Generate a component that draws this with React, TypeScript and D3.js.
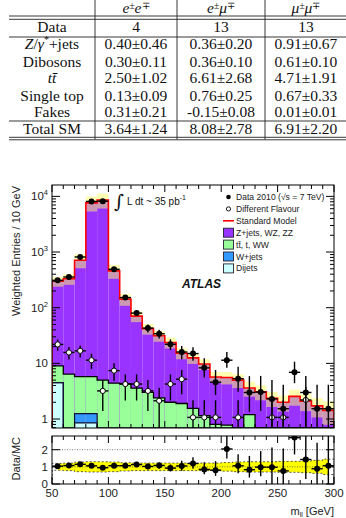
import React from 'react';
import * as d3 from 'd3';

// table (top)
const tableRows = ['Data', 'Z/γ*+jets', 'Dibosons', 'tt', 'Single top', 'Fakes', 'Total SM'];
const eeValues = ['4', '0.40±0.46', '0.30±0.11', '2.50±1.02', '0.13±0.09', '0.31±0.21', '3.64±1.24'];
const emValues = ['13', '0.36±0.20', '0.36±0.10', '6.61±2.68', '0.76±0.25', '-0.15±0.08', '8.08±2.78'];
const mmValues = ['13', '0.91±0.67', '0.61±0.10', '4.71±1.91', '0.67±0.33', '0.01±0.01', '6.91±2.20'];
const channelLeptons = [['e', 'e'], ['e', 'μ'], ['μ', 'μ']];

// histogram, 10 GeV bins
const binLow = [50, 60, 70, 80, 90, 100, 110, 120, 130, 140, 150, 160, 170, 180, 190, 200, 210, 220, 230, 240, 250, 260, 270, 280, 290];
const dataCounts = [310, 356, 815, 8100, 8200, 490, 152, 80, 43, 34, 22, 16, 15, 8.3, 4.6, 11.4, 5.3, 3.0, 3.05, 2.3, 1.53, 6.9, 3.0, 1.53, 1.53];
const dataErrUp = [18, 19, 29, 90, 91, 22, 12, 9, 7, 6, 5, 4.6, 4.5, 4.0, 3.0, 4.6, 3.4, 2.9, 2.9, 2.7, 2.6, 3.8, 2.9, 2.6, 2.6];
const dataErrDown = [18, 19, 29, 90, 91, 22, 12, 9, 7, 6, 4.7, 4.2, 3.9, 2.7, 1.9, 3.1, 2.2, 1.65, 1.65, 2.3, 1.53, 2.5, 2.4, 1.53, 1.53];
const diffFlavour = [21.9, 15.7, 16.8, 11.4, 3.2, 7.4, 4.25, 4.25, 3.2, 2.13, 4.25, 5.2, 1.07, 1.07, 1.07, 0, 1.07, 0, 0, 1.07, 1.07, 0, 2.2, 0, 0];
const diffFlavourErr = [5, 4, 4, 3.5, 1.8, 2.6, 2.1, 2.1, 1.8, 1.5, 2.1, 2.4, 1.1, 1.1, 1.1, 0, 1.1, 0, 0, 1.1, 1.1, 0, 1.6, 0, 0];
const dijets = [4.5, 0, 0.85, 0.85, 0, 0, 0, 0, 0, 0, 0, 0, 0, 0, 0, 0, 0, 0, 0, 0, 0, 0, 0, 0, 0];
const wjets = [0, 0, 0.4, 0.4, 0, 0, 0, 0, 0, 0, 0, 0, 0, 0, 0, 0, 0, 0, 0, 0, 0, 0, 0, 0, 0];
const topWW = [4.5, 6.4, 4.55, 4.55, 5.0, 4.4, 4.3, 3.6, 3.0, 2.4, 2.0, 1.9, 1.55, 1.15, 0.8, 0.78, 0.5, 1.2, 0.45, 0.35, 0.3, 0.3, 0.25, 0.2, 0.2];
const zjets = [289, 324, 704, 7634, 8625, 454, 138, 67, 39, 29, 21.7, 13.3, 11.0, 8.6, 4.9, 4.8, 4.5, 2.4, 2.65, 2.0, 1.7, 2.25, 1.85, 1.52, 1.23];
const mcRelErr = [0.2, 0.22, 0.28, 0.3, 0.3, 0.28, 0.24, 0.22, 0.22, 0.22, 0.22, 0.22, 0.22, 0.22, 0.22, 0.25, 0.28, 0.3, 0.3, 0.3, 0.32, 0.32, 0.34, 0.38, 0.45];

const logMajor = [1, 10, 100, 1000, 10000];
const xMajor = [50, 100, 150, 200, 250, 300];
const ratioTicks = [0, 1, 2];

const legendItems = [
  { label: 'Data 2010 (√s = 7 TeV)', kind: 'data' },
  { label: 'Different Flavour', kind: 'open' },
  { label: 'Standard Model', kind: 'line' },
  { label: 'Z+jets, WZ, ZZ', kind: 'box', color: '#9933ff' },
  { label: 'tt̄, t, WW', kind: 'box', color: '#99ff99' },
  { label: 'W+jets', kind: 'box', color: '#3399ff' },
  { label: 'Dijets', kind: 'box', color: '#ccffff' },
];

const SANS = 'Liberation Sans, Arial, sans-serif';
const SERIF = 'Liberation Serif, Times New Roman, serif';

const App = () => {
  const x = d3.scaleLinear().domain([50, 300]).range([52, 334]);
  const y = d3.scaleLog().domain([0.69, 16000]).range([428, 185]).clamp(true);
  const yr = d3.scaleLinear().domain([0, 2.8]).range([484, 436]).clamp(true);
  const bottom = y.range()[0];

  const cumCyan = dijets;
  const cumBlue = dijets.map((v, i) => v + wjets[i]);
  const cumGreen = cumBlue.map((v, i) => v + topWW[i]);
  const total = cumGreen.map((v, i) => v + zjets[i]);

  const stepPath = (vals: number[], yy: any) => {
    const pts: [number, number][] = [[x(binLow[0]), yy.range()[0]]];
    vals.forEach((v, i) => {
      const yv = v > 0 ? yy(v) : yy.range()[0];
      pts.push([x(binLow[i]), yv]);
      pts.push([x(binLow[i] + 10), yv]);
    });
    pts.push([x(300), yy.range()[0]]);
    return d3.line()(pts) || '';
  };

  const minorLog: number[] = [];
  [0.1, 1, 10, 100, 1000, 10000].forEach((d) => {
    for (let k = 2; k <= 9; k++) {
      const v = k * d;
      if (v >= 0.69 && v <= 16000) minorLog.push(v);
    }
  });
  const xMinor = d3.range(50, 301, 10);

  const logLabel = (v: number) => {
    const e = Math.round(Math.log10(v));
    if (e === 0) return <tspan>1</tspan>;
    if (e === 1) return <tspan>10</tspan>;
    return (
      <>
        <tspan>10</tspan>
        <tspan fontSize={7.5} dy={-5}>{e}</tspan>
      </>
    );
  };

  const colCenters = [52, 136, 221, 306];
  const rowBase = [32, 49, 66.5, 83, 100.5, 117, 134];
  const colValues = [eeValues, emValues, mmValues];

  const rowLabel = (r: string) => {
    if (r === 'Z/γ*+jets') {
      return (
        <>
          <tspan fontStyle="italic">Z</tspan>
          <tspan>/</tspan>
          <tspan fontStyle="italic">γ</tspan>
          <tspan fontSize={10} dy={-6}>*</tspan>
          <tspan dy={6}>+jets</tspan>
        </>
      );
    }
    if (r === 'tt') return <tspan fontStyle="italic">tt̄</tspan>;
    return r;
  };

  const frameTicks = (top: number, bot: number) => (
    <g stroke="#000" strokeWidth={1}>
      {xMinor.map((m) => {
        const len = xMajor.includes(m) ? 7 : 4;
        return (
          <g key={m}>
            <line x1={x(m)} x2={x(m)} y1={bot} y2={bot - len} />
            <line x1={x(m)} x2={x(m)} y1={top} y2={top + len} />
          </g>
        );
      })}
    </g>
  );

  return (
    <svg width={346} height={518} style={{ position: 'absolute', left: 0, top: 0, background: '#fff' }}>
      <defs>
        <clipPath id="mainClip">
          <rect x={52} y={185} width={282} height={243} />
        </clipPath>
        <clipPath id="ratioClip">
          <rect x={52} y={436} width={282} height={48} />
        </clipPath>
      </defs>

      {/* table */}
      <g fontFamily={SERIF} fontSize={15.5} fill="#111" textAnchor="middle">
        {[95, 177, 265].map((vx) => (
          <line key={vx} x1={vx} x2={vx} y1={0} y2={139.5} stroke="#222" strokeWidth={0.9} />
        ))}
        {[16, 19.3, 37, 121, 137.3, 139.8].map((hy) => (
          <line key={hy} x1={9} x2={346} y1={hy} y2={hy} stroke="#222" strokeWidth={0.9} />
        ))}
        {channelLeptons.map((c, i) => (
          <text key={i} x={colCenters[i + 1]} y={13}>
            <tspan fontStyle="italic">{c[0]}</tspan>
            <tspan fontSize={9.5} dy={-4.5}>±</tspan>
            <tspan fontStyle="italic" dy={4.5}>{c[1]}</tspan>
            <tspan fontSize={9.5} dy={-4.5}>∓</tspan>
          </text>
        ))}
        {tableRows.map((r, j) => (
          <g key={r}>
            <text x={colCenters[0]} y={rowBase[j]}>{rowLabel(r)}</text>
            {colValues.map((vals, i) => (
              <text key={i} x={colCenters[i + 1]} y={rowBase[j]}>{vals[j]}</text>
            ))}
          </g>
        ))}
      </g>

      {/* main plot */}
      <g clipPath="url(#mainClip)">
        {binLow.map((b, i) => (
          <g key={b}>
            <rect x={x(b)} width={x(b + 10) - x(b)} y={y(total[i])} height={bottom - y(total[i])} fill="#9933ff" />
            {cumGreen[i] > 0 && <rect x={x(b)} width={x(b + 10) - x(b)} y={y(cumGreen[i])} height={bottom - y(cumGreen[i])} fill="#99ff99" />}
            {cumBlue[i] > 0 && <rect x={x(b)} width={x(b + 10) - x(b)} y={y(cumBlue[i])} height={bottom - y(cumBlue[i])} fill="#3399ff" />}
            {cumCyan[i] > 0 && <rect x={x(b)} width={x(b + 10) - x(b)} y={y(cumCyan[i])} height={bottom - y(cumCyan[i])} fill="#ccffff" />}
          </g>
        ))}
        {binLow.map((b, i) => {
          const hi = y(total[i] * (1 + mcRelErr[i]));
          const lo = y(total[i] * (1 - mcRelErr[i]));
          return <rect key={b} x={x(b)} width={x(b + 10) - x(b)} y={hi} height={lo - hi} fill="#ffff66" opacity={0.5} />;
        })}
        <path d={stepPath(cumCyan, y)} fill="none" stroke="#113" strokeWidth={1.2} />
        <path d={stepPath(cumBlue, y)} fill="none" stroke="#113" strokeWidth={1.2} />
        <path d={stepPath(cumGreen, y)} fill="none" stroke="#000" strokeWidth={1.3} />
        <path d={stepPath(total, y)} fill="none" stroke="#ff0000" strokeWidth={1.6} />

        {/* different flavour */}
        {binLow.map((b, i) => {
          const v = diffFlavour[i];
          if (v <= 0) return null;
          const cx = x(b + 5);
          const cy = y(v);
          return (
            <g key={b} stroke="#000" strokeWidth={1.4}>
              <line x1={cx} x2={cx} y1={y(v + diffFlavourErr[i])} y2={y(Math.max(v - diffFlavourErr[i], 0.01))} />
              <line x1={x(b)} x2={x(b + 10)} y1={cy} y2={cy} />
              <circle cx={cx} cy={cy} r={2.6} fill="#fff" strokeWidth={1} />
            </g>
          );
        })}
        {/* data */}
        {binLow.map((b, i) => {
          const v = dataCounts[i];
          const cx = x(b + 5);
          const cy = y(v);
          return (
            <g key={b} stroke="#000" strokeWidth={1.4}>
              <line x1={cx} x2={cx} y1={y(v + dataErrUp[i])} y2={y(Math.max(v - dataErrDown[i], 0.01))} />
              <line x1={x(b)} x2={x(b + 10)} y1={cy} y2={cy} />
              <circle cx={cx} cy={cy} r={3} fill="#000" stroke="none" />
            </g>
          );
        })}
      </g>

      {/* main frame + ticks */}
      <rect x={52} y={185} width={282} height={243} fill="none" stroke="#000" strokeWidth={1} />
      {frameTicks(185, 428)}
      <g stroke="#000" strokeWidth={1}>
        {logMajor.map((v) => (
          <g key={v}>
            <line x1={52} x2={60} y1={y(v)} y2={y(v)} />
            <line x1={334} x2={326} y1={y(v)} y2={y(v)} />
          </g>
        ))}
        {minorLog.map((v) => (
          <g key={v}>
            <line x1={52} x2={56} y1={y(v)} y2={y(v)} />
            <line x1={334} x2={330} y1={y(v)} y2={y(v)} />
          </g>
        ))}
      </g>
      <g fontFamily={SANS} fontSize={11.5} fill="#222" textAnchor="end">
        {logMajor.map((v) => (
          <text key={v} x={48} y={y(v) + 4}>{logLabel(v)}</text>
        ))}
      </g>
      <text transform="translate(20,186) rotate(-90)" textAnchor="end" fontFamily={SANS} fontSize={11} fill="#222">
        Weighted Entries / 10 GeV
      </text>

      {/* lumi + ATLAS */}
      <g fontFamily={SANS} fill="#111">
        <text x={114} y={208} fontSize={19} fontFamily="DejaVu Serif, serif">∫</text>
        <text x={127} y={205} fontSize={10}>
          L dt ~ 35 pb<tspan fontSize={7} dy={-5}>-1</tspan>
        </text>
        <text x={182} y={288} fontSize={12} fontWeight="bold" fontStyle="italic">ATLAS</text>
      </g>

      {/* legend */}
      <g fontFamily={SANS} fontSize={8.6} fill="#222">
        {legendItems.map((it, k) => {
          const cy = 197 + k * 11.9;
          return (
            <g key={it.label}>
              {it.kind === 'data' && <circle cx={228.5} cy={cy} r={2.3} fill="#000" />}
              {it.kind === 'open' && <circle cx={228.5} cy={cy} r={2.1} fill="#fff" stroke="#000" strokeWidth={0.9} />}
              {it.kind === 'line' && <line x1={223} x2={234} y1={cy} y2={cy} stroke="#ff0000" strokeWidth={1.6} />}
              {it.kind === 'box' && <rect x={223.5} y={cy - 4.5} width={10} height={9} fill={it.color} stroke="#223" strokeWidth={0.9} />}
              <text x={236} y={cy + 3}>{it.label}</text>
            </g>
          );
        })}
      </g>

      {/* ratio plot */}
      <g clipPath="url(#ratioClip)">
        <path
          d={
            d3.area<number>()
              .x((_, i) => x(binLow[i] + 5))
              .y0((_, i) => yr(1 - mcRelErr[i]))
              .y1((_, i) => yr(1 + mcRelErr[i]))
              .curve(d3.curveStep)(mcRelErr) || ''
          }
          fill="#ffff00"
        />
        <path d={stepPath(mcRelErr.map((e) => 1 + e), yr)} fill="none" stroke="#333" strokeWidth={0.8} strokeDasharray="2,2" />
        <path d={stepPath(mcRelErr.map((e) => 1 - e), yr)} fill="none" stroke="#333" strokeWidth={0.8} strokeDasharray="2,2" />
        {[1, 2].map((v) => (
          <line key={v} x1={52} x2={334} y1={yr(v)} y2={yr(v)} stroke="#555" strokeWidth={0.8} strokeDasharray="1,1.5" />
        ))}
        {binLow.map((b, i) => {
          const r = dataCounts[i] / total[i];
          const cx = x(b + 5);
          return (
            <g key={b} stroke="#000" strokeWidth={1.4}>
              <line x1={cx} x2={cx} y1={yr(r + dataErrUp[i] / total[i])} y2={yr(r - dataErrDown[i] / total[i])} />
              <line x1={x(b)} x2={x(b + 10)} y1={yr(r)} y2={yr(r)} />
              <circle cx={cx} cy={yr(r)} r={3} fill="#000" stroke="none" />
            </g>
          );
        })}
      </g>
      <rect x={52} y={436} width={282} height={48} fill="none" stroke="#000" strokeWidth={1} />
      {frameTicks(436, 484)}
      <g stroke="#000" strokeWidth={1}>
        {ratioTicks.map((v) => (
          <g key={v}>
            <line x1={52} x2={60} y1={yr(v)} y2={yr(v)} />
            <line x1={334} x2={326} y1={yr(v)} y2={yr(v)} />
          </g>
        ))}
      </g>
      <g fontFamily={SANS} fontSize={11.5} fill="#222" textAnchor="end">
        {ratioTicks.map((v) => (
          <text key={v} x={48} y={yr(v) + 4}>{v}</text>
        ))}
      </g>
      <g fontFamily={SANS} fontSize={11.5} fill="#222" textAnchor="middle">
        {xMajor.map((m) => (
          <text key={m} x={x(m)} y={497}>{m}</text>
        ))}
      </g>
      <text transform="translate(20,437) rotate(-90)" textAnchor="end" fontFamily={SANS} fontSize={11} fill="#222">
        Data/MC
      </text>
      <text x={334} y={515} textAnchor="end" fontFamily={SANS} fontSize={11} fill="#222">
        m<tspan fontSize={7} dy={2}>ll</tspan><tspan dy={-2}> [GeV]</tspan>
      </text>
    </svg>
  );
};

export default App;
